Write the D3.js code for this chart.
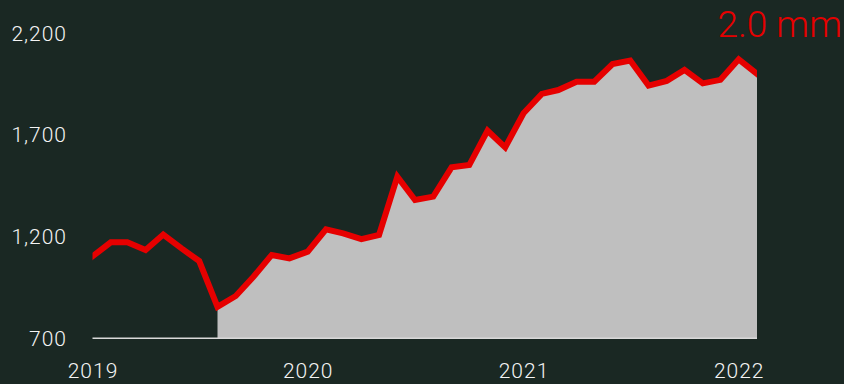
<!DOCTYPE html>
<html>
<head>
<meta charset="utf-8">
<script src="https://cdn.jsdelivr.net/npm/d3@7"></script>
<style>
  html, body { margin: 0; padding: 0; background: #1a2823; }
  svg { display: block; }
  text { font-family: Roboto, "Liberation Sans", sans-serif; }
</style>
</head>
<body>
<svg id="chart" width="844" height="384"></svg>
<script>
// Monthly series, Jan 2019 – Feb 2022
const months = d3.utcMonths(new Date(Date.UTC(2019, 0, 1)), new Date(Date.UTC(2022, 2, 1)));
const values = [
  1103, 1172, 1172, 1134, 1210, 1142, 1080, 855, 908, 1003, 1110, 1093,
  1126, 1236, 1216, 1188, 1208, 1495, 1380, 1397, 1541, 1552, 1721, 1639,
  1807, 1902, 1921, 1962, 1962, 2049, 2066, 1943, 1966, 2020, 1954, 1971,
  2072, 2000
];
const yTicks = [700, 1200, 1700, 2200];
const xTickYears = [2019, 2020, 2021, 2022];
const shadeFrom = 7; // shaded area begins Aug 2019

const data = months.map((d, i) => ({ date: d, value: values[i] }));

const svg = d3.select("#chart");
const x = d3.scaleUtc()
  .domain([months[0], months[months.length - 1]])
  .range([92.5, 757]);
const y = d3.scaleLinear().domain([700, 2200]).range([338.3, 33.3]);

// clip marks to the plotted span
svg.append("defs").append("clipPath").attr("id", "plot")
  .append("rect")
  .attr("x", x.range()[0]).attr("y", 0)
  .attr("width", x.range()[1] - x.range()[0]).attr("height", 384);

// shaded area
const area = d3.area()
  .x(d => x(d.date))
  .y0(y(700))
  .y1(d => y(d.value));
svg.append("path")
  .datum(data.slice(shadeFrom))
  .attr("d", area)
  .attr("fill", "#bfbfbf");

// baseline
svg.append("line")
  .attr("x1", x.range()[0]).attr("x2", x.range()[1])
  .attr("y1", y(700)).attr("y2", y(700))
  .attr("stroke", "#d9d9d9").attr("stroke-width", 1.5);

// red line
const line = d3.line().x(d => x(d.date)).y(d => y(d.value));
svg.append("path")
  .datum(data)
  .attr("clip-path", "url(#plot)")
  .attr("d", line)
  .attr("fill", "none")
  .attr("stroke", "#e60000")
  .attr("stroke-width", 6)
  .attr("stroke-linejoin", "miter")
  .attr("stroke-linecap", "square");

// y axis labels
const yAxis = d3.axisLeft(y).tickValues(yTicks).tickSize(0).tickPadding(0)
  .tickFormat(d3.format(","));
const gy = svg.append("g").attr("transform", "translate(67,0)").call(yAxis);
gy.select(".domain").remove();
gy.selectAll("text")
  .attr("fill", "#f4f4f4")
  .attr("font-size", 21)
  .attr("font-weight", 300)
  .attr("letter-spacing", 1)
  .attr("font-family", "Roboto, sans-serif");

// x axis labels
const xAxis = d3.axisBottom(x)
  .tickValues(xTickYears.map(yr => new Date(Date.UTC(yr, 0, 1))))
  .tickSize(0).tickPadding(0)
  .tickFormat(d3.utcFormat("%Y"));
const gx = svg.append("g").attr("transform", "translate(0,363)").call(xAxis);
gx.select(".domain").remove();
gx.selectAll("text")
  .attr("fill", "#f4f4f4")
  .attr("font-size", 21)
  .attr("font-weight", 300)
  .attr("letter-spacing", 1)
  .attr("font-family", "Roboto, sans-serif");

// latest value label
const last = data[data.length - 1];
svg.append("text")
  .attr("x", 842).attr("y", 36.5)
  .attr("text-anchor", "end")
  .attr("fill", "#e60000")
  .attr("font-size", 37)
  .attr("font-weight", 300)
  .text(d3.format(".1f")(last.value / 1000) + " mm");
</script>
</body>
</html>
